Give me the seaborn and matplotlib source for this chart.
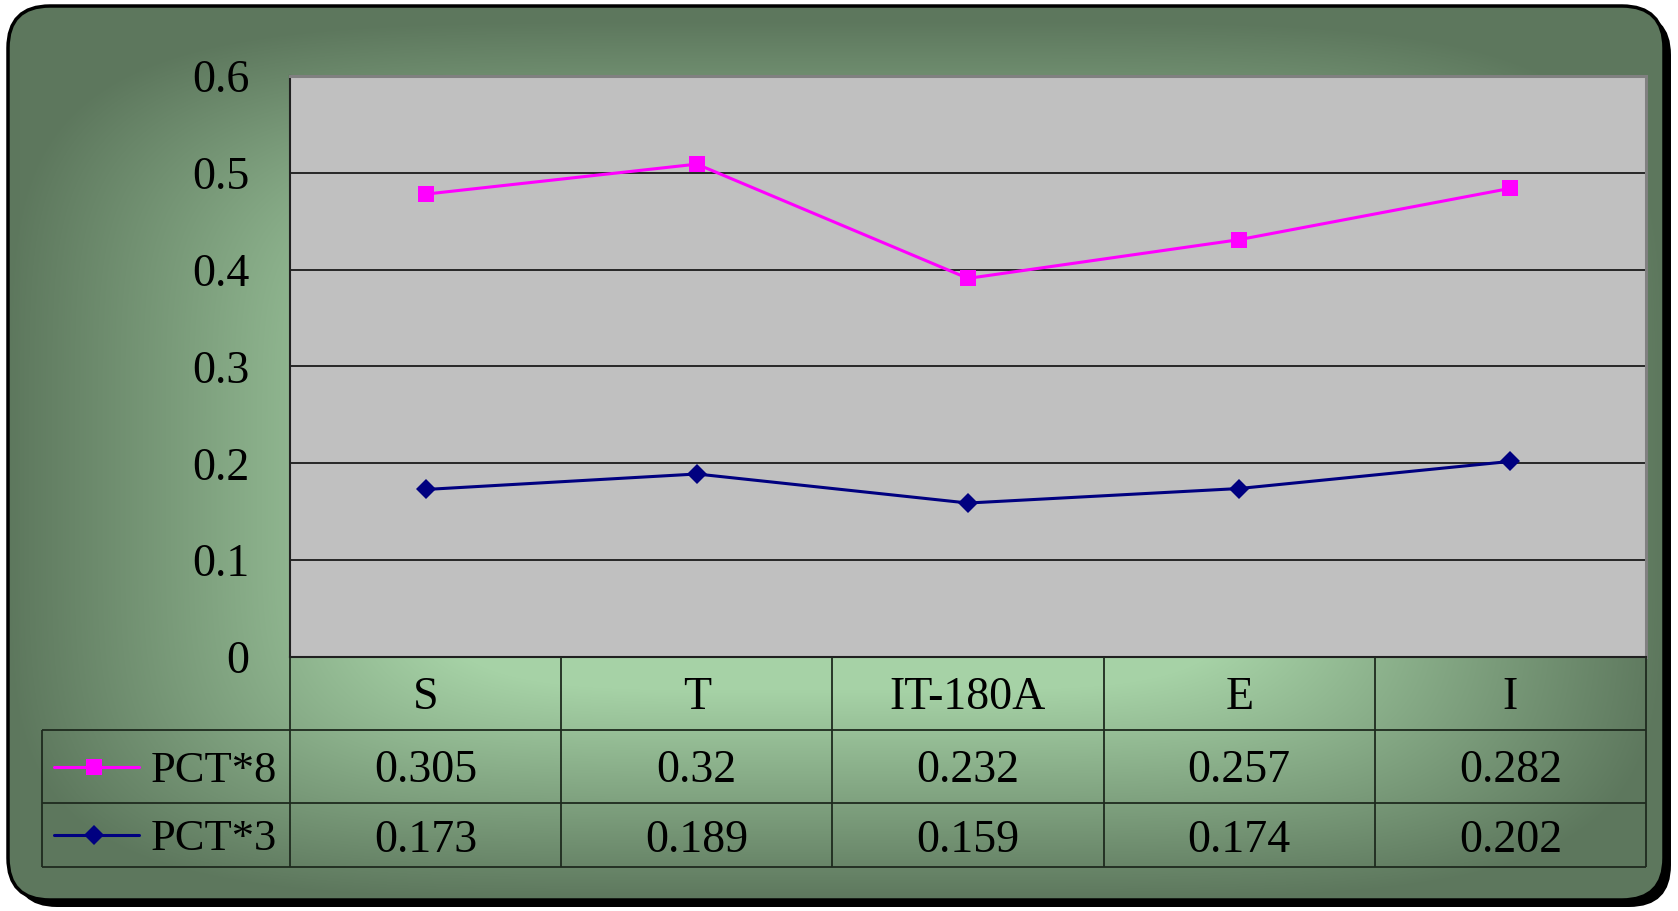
import numpy as np
import pandas as pd
import matplotlib
matplotlib.use("Agg")
import matplotlib.pyplot as plt
from matplotlib.patches import FancyBboxPatch
import seaborn as sns

# data (stacked line chart, values shown in the data table)
categories = ["S", "T", "IT-180A", "E", "I"]
pct8 = [0.305, 0.32, 0.232, 0.257, 0.282]
pct3 = [0.173, 0.189, 0.159, 0.174, 0.202]
series_names = ["PCT*8", "PCT*3"]
y_ticks = [0, 0.1, 0.2, 0.3, 0.4, 0.5, 0.6]

sns.set_style("white")
plt.rcParams["font.family"] = ["Liberation Serif", "DejaVu Serif"]
plt.rcParams["text.color"] = "black"
plt.rcParams["ytick.labelcolor"] = "black"

W, H = 1678, 911
FS = 33
fig = plt.figure(figsize=(W / 100, H / 100), dpi=100)
fig.patch.set_facecolor("white")

# background: rounded box with a "from center" gradient and a black shadow
bg = fig.add_axes([0, 0, 1, 1])
bg.set_xlim(0, W)
bg.set_ylim(H, 0)
bg.axis("off")

shadow = FancyBboxPatch((15, 13), 1656, 894, boxstyle="round,pad=0,rounding_size=42",
                        fc="black", ec="none")
bg.add_patch(shadow)
box = FancyBboxPatch((8, 6), 1656, 894, boxstyle="round,pad=0,rounding_size=42",
                     fc="none", ec="black", lw=2.5, zorder=3)
bg.add_patch(box)

gx, gy = np.meshgrid(np.arange(W), np.arange(H))
dy = gy - 480
rx = np.abs(gx - 836) / 830
ry = np.where(dy < 0, -dy / 460, dy / 420)
b = 1 - (rx ** 5 + ry ** 5) ** 0.2
b = np.clip(b, 0, 0.5) / 0.5
dark = np.array([0x5d, 0x77, 0x5d]) / 255
light = np.array([0xa6, 0xd2, 0xa6]) / 255
img = dark + b[..., None] * (light - dark)
im = bg.imshow(img, extent=(0, W, H, 0), zorder=1)
clip_box = FancyBboxPatch((8, 6), 1656, 894, boxstyle="round,pad=0,rounding_size=42",
                          fc="none", ec="none", transform=bg.transData)
im.set_clip_path(clip_box)

# plot area
ax = fig.add_axes([290 / W, 254 / H, 1356 / W, 581 / H])
ax.set_facecolor("#c0c0c0")
xpos = np.arange(len(categories))
df = pd.DataFrame({"x": xpos, "pct3": pct3, "stack": np.add(pct3, pct8)})

sns.lineplot(data=df, x="x", y="pct3", ax=ax, color="#000080", marker="D",
             markersize=10, markeredgewidth=0, linewidth=2.2, zorder=4)
sns.lineplot(data=df, x="x", y="stack", ax=ax, color="#ff00ff", marker="s",
             markersize=12, markeredgewidth=0, linewidth=2.2, zorder=4)

ax.set_xlim(-0.5, len(categories) - 0.5)
ax.set_ylim(0, 0.6)
ax.set_xticks([])
ax.set_yticks(y_ticks)
ax.set_yticklabels([f"{v:g}" for v in y_ticks], fontsize=FS, color="black")
ax.tick_params(axis="y", direction="in", length=11, width=1.3, color="#202020", pad=29)
ax.set_xlabel("")
ax.set_ylabel("")
ax.set_axisbelow(True)
ax.yaxis.grid(True, color="#1a1a1a", lw=1.3)
for side in ["left", "bottom"]:
    ax.spines[side].set_color("#202020")
    ax.spines[side].set_linewidth(1.5)
for side in ["top", "right"]:
    ax.spines[side].set_color("#808080")
    ax.spines[side].set_linewidth(2.2)

# data table under the plot
unit = 1356 / len(categories)
x_left = -0.5 - 248 / unit


def u(px):
    return -0.5 - (290 - px) / unit


tab = fig.add_axes([42 / W, 44 / H, 1604 / W, 210 / H])
tab.set_xlim(x_left, len(categories) - 0.5)
tab.set_ylim(210, 0)
tab.axis("off")
tab.patch.set_visible(False)

lc = "#1e2a1e"
tab.hlines([73, 146, 210], x_left, len(categories) - 0.5, color=lc, lw=1.3, clip_on=False)
tab.vlines([x_left], 73, 210, color=lc, lw=1.3, clip_on=False)
tab.vlines(np.arange(len(categories) + 1) - 0.5, 0, 210, color=lc, lw=1.3, clip_on=False)

row_y = [114, 184]
for i, cat in enumerate(categories):
    tab.text(i, 41, cat, ha="center", va="center", fontsize=FS)
    tab.text(i, row_y[0], f"{pct8[i]:g}", ha="center", va="center", fontsize=FS)
    tab.text(i, row_y[1], f"{pct3[i]:g}", ha="center", va="center", fontsize=FS)

keys = [("#ff00ff", "s", 12), ("#000080", "D", 10)]
for (col, mk, ms), name, yy in zip(keys, series_names, [109.5, 178]):
    tab.plot([u(54), u(139)], [yy, yy], color=col, lw=2.2, clip_on=False)
    tab.plot([u(94)], [yy], color=col, marker=mk, markersize=ms, markeredgewidth=0,
             clip_on=False)
    tab.text(u(151), yy + 4, name, ha="left", va="center", fontsize=32)

fig.savefig("out.png", dpi=100)
